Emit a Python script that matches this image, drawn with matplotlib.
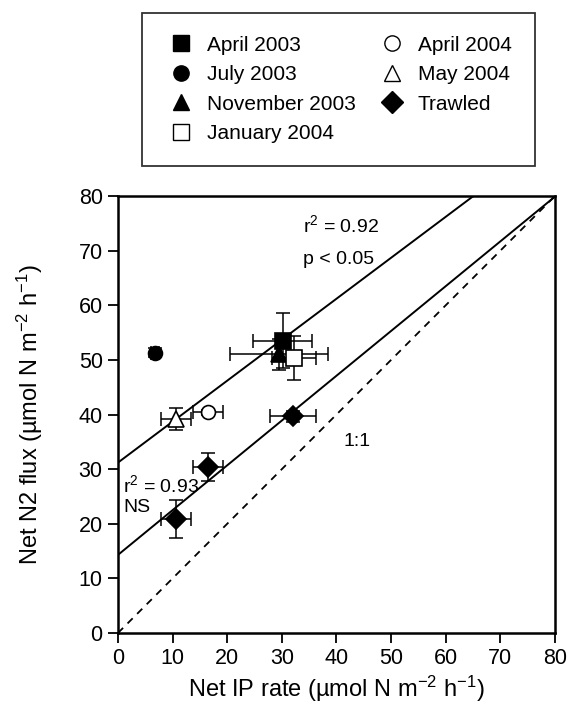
import numpy as np
import matplotlib.pyplot as plt
from matplotlib.lines import Line2D

plt.rcParams['font.family'] = ['Liberation Sans', 'DejaVu Sans']
plt.rcParams['mathtext.fontset'] = 'custom'
plt.rcParams['mathtext.rm'] = 'Liberation Sans'
plt.rcParams['mathtext.default'] = 'regular'

# donnees
labels = ['April 2003', 'July 2003', 'November 2003', 'January 2004',
          'April 2004', 'May 2004', 'Trawled']
markers = ['s', 'o', '^', 's', 'o', '^', 'D']
fills = ['k', 'k', 'k', 'w', 'w', 'w', 'k']
msizes = [12, 10, 11, 11, 10, 11, 10]

ip_x = [[30.2], [6.8], [29.5], [32.2], [16.5], [10.6], [32.1, 16.5, 10.6]]
n2_y = [[53.5], [51.3], [51.0], [50.4], [40.4], [39.2], [39.7, 30.4, 20.9]]
x_err = [[5.4], [0.8], [9.0], [4.0], [2.7], [2.8], [4.2, 2.8, 2.7]]
y_err = [[5.0], [0.8], [2.8], [4.0], [0.5], [2.0], [1.0, 2.5, 3.5]]

# droites de regression (ordonnee a l'origine, pente)
fit_b = [31.2, 14.3]
fit_a = [0.75, 0.82]

fig = plt.figure(figsize=(5.68, 7.13), dpi=100)
ax = fig.add_axes([0.2077, 0.1122, 0.7693, 0.6128])

xx = np.array([0, 80])
for b, a in zip(fit_b, fit_a):
    ax.plot(xx, b + a * xx, color='k', lw=1.4, zorder=2)
ax.plot(xx, xx, color='k', lw=1.3, ls=(0, (4, 3.5)), zorder=2)

handles = []
for i in range(len(labels)):
    ax.errorbar(ip_x[i], n2_y[i], xerr=x_err[i], yerr=y_err[i], fmt='none',
                ecolor='k', elinewidth=1.1, capsize=5, capthick=1.1, zorder=3)
    ax.plot(ip_x[i], n2_y[i], ls='none', marker=markers[i], ms=msizes[i],
            mfc=fills[i], mec='k', mew=1.2, zorder=4)
    handles.append(Line2D([], [], ls='none', marker=markers[i], ms=11,
                          mfc=fills[i], mec='k', mew=1.0, label=labels[i]))

ax.text(33.9, 74.7, 'r$^2$ = 0.92', fontsize=14, va='center')
ax.text(33.9, 68.3, 'p < 0.05', fontsize=14, va='center')
ax.text(1.0, 27.1, 'r$^2$ = 0.93', fontsize=14, va='center')
ax.text(1.0, 22.9, 'NS', fontsize=14, va='center')
ax.text(41.2, 35.0, '1:1', fontsize=14, va='center')

ax.set_xlim(0, 80)
ax.set_ylim(0, 80)
ax.set_xticks(np.arange(0, 81, 10))
ax.set_yticks(np.arange(0, 81, 10))
ax.tick_params(direction='out', length=7, width=1.3, labelsize=15.5, pad=4)
for s in ax.spines.values():
    s.set_linewidth(1.8)

ax.set_xlabel('Net IP rate (µmol N m$^{-2}$ h$^{-1}$)', fontsize=17, labelpad=3)
ax.set_ylabel('Net N2 flux (µmol N m$^{-2}$ h$^{-1}$)', fontsize=17, labelpad=24)

leg = fig.legend(handles=handles, ncol=2, loc='upper left',
                 bbox_to_anchor=(0.25, 0.982), borderaxespad=0, fontsize=15,
                 frameon=True, fancybox=False, edgecolor='k', borderpad=1.1,
                 labelspacing=0.5, columnspacing=1.0, handletextpad=0.5,
                 handlelength=1.5)
leg.get_frame().set_linewidth(1.3)

fig.savefig('out.png', dpi=100)
